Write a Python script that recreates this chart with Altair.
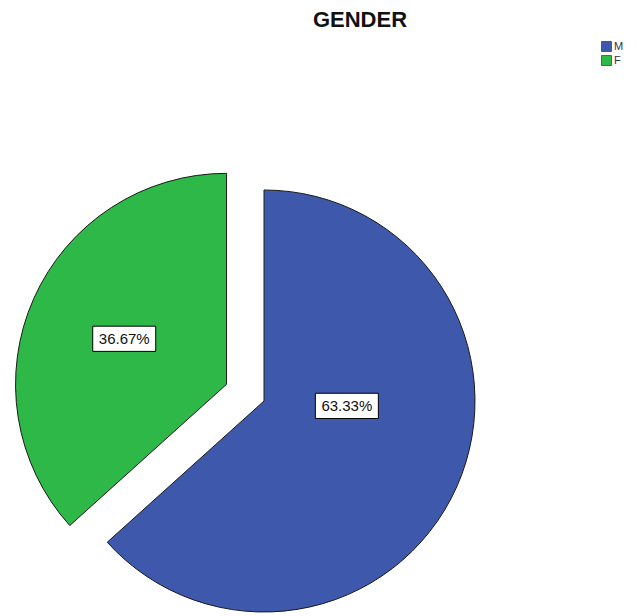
import math
import altair as alt
import pandas as pd

# ---- data ----
genders = ["M", "F"]
percents = [63.33, 36.67]
colors = ["#3E58AC", "#2EB848"]
title_text = ["GENDER"]

df = pd.DataFrame({"gender": genders, "pct": percents, "order": list(range(len(genders)))})

base = alt.Chart(df).transform_window(
    cum="sum(pct)", sort=[alt.SortField("order", order="ascending")], frame=[None, 0]
).transform_joinaggregate(total="sum(pct)").transform_calculate(
    start="(datum.cum - datum.pct) / datum.total * 100",
    end="datum.cum / datum.total * 100",
    mid="(datum.cum - datum.pct / 2) / datum.total * 2 * PI",
    ex="datum.gender == 'F' ? 41 : 0",
    cx="264 + datum.ex * sin(datum.mid)",
    cy="401 - datum.ex * cos(datum.mid)",
    la="datum.gender == 'F' ? datum.mid : datum.mid - 0.36",
    lr="datum.gender == 'F' ? 112 : 83",
    lx="datum.cx + datum.lr * sin(datum.la)",
    ly="datum.cy - datum.lr * cos(datum.la)",
    label="format(datum.pct, '.2f') + '%'",
)

arcs = base.mark_arc(outerRadius=211, stroke="#1a1a1a", strokeWidth=1).encode(
    x=alt.X("cx:Q", scale=None),
    y=alt.Y("cy:Q", scale=None),
    theta=alt.Theta("start:Q", scale=alt.Scale(domain=[0, 100], range=[0, 2 * math.pi])),
    theta2="end:Q",
    color=alt.Color(
        "gender:N",
        scale=alt.Scale(domain=genders, range=colors),
        sort=genders,
        legend=alt.Legend(
            orient="none", legendX=601, legendY=41, title=None,
            symbolType="square", symbolSize=100, symbolStrokeColor="#333",
            symbolStrokeWidth=0.7, labelFontSize=11, labelFont="Liberation Sans",
            labelColor="#333", rowPadding=1, labelOffset=2,
        ),
    ),
)

box_path = "M-1,-0.4L1,-0.4L1,0.4L-1,0.4Z"
boxes = base.mark_point(
    shape=box_path, size=63 * 63, filled=True, fill="white", stroke="black",
    strokeWidth=1, opacity=1,
).encode(x=alt.X("lx:Q", scale=None), y=alt.Y("ly:Q", scale=None))

labels = base.mark_text(font="Liberation Sans", fontSize=15, color="#111").encode(
    x=alt.X("lx:Q", scale=None), y=alt.Y("ly:Q", scale=None), text="label:N"
)

title = alt.Chart(pd.DataFrame({"t": title_text})).mark_text(
    font="Liberation Sans", fontSize=22, fontWeight="bold", color="#111", baseline="top"
).encode(x=alt.value(360), y=alt.value(10), text="t:N")

chart = alt.layer(arcs, boxes, labels, title).properties(
    width=637, height=616, padding=0, autosize="none"
).configure_view(stroke=None)

chart.save("out.html", embed_options={"renderer": "svg", "actions": False})
